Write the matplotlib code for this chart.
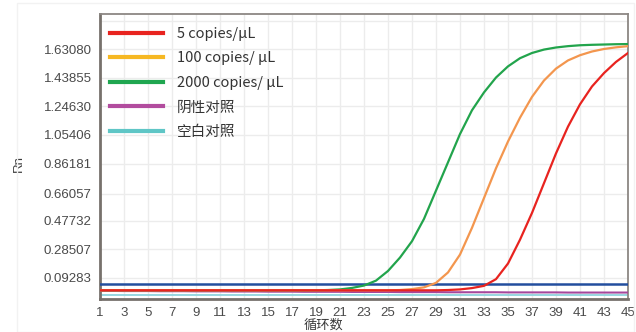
import matplotlib
matplotlib.use('Agg')
import matplotlib.pyplot as plt
from matplotlib.lines import Line2D
from matplotlib.patches import Rectangle
from matplotlib.font_manager import FontProperties

# cycles 1..45
cycles = list(range(1, 46))

# Rn readings per cycle
rn_5 = [0.010] * 29 + [0.012, 0.016, 0.025, 0.040, 0.085, 0.19, 0.35, 0.53, 0.73,
                       0.93, 1.11, 1.26, 1.38, 1.47, 1.545, 1.605]
rn_100 = [0.010] * 25 + [0.012, 0.018, 0.030, 0.060, 0.13, 0.25, 0.43, 0.63, 0.83,
                         1.01, 1.17, 1.31, 1.42, 1.50, 1.555, 1.59, 1.615, 1.632,
                         1.643, 1.651]
rn_2000 = [0.010] * 19 + [0.012, 0.016, 0.026, 0.042, 0.075, 0.14, 0.23, 0.34, 0.49,
                          0.68, 0.87, 1.06, 1.22, 1.34, 1.44, 1.515, 1.57, 1.605,
                          1.628, 1.642, 1.651, 1.657, 1.660, 1.662, 1.664, 1.665]
rn_neg = [0.006, 0.006, 0.005, 0.005, 0.005, 0.004, 0.004, 0.004, 0.003, 0.003,
          0.003, 0.002, 0.002, 0.002, 0.001, 0.001, 0.001, 0.000, 0.000, 0.000,
          0.000, -0.001, -0.001, -0.001, -0.001, -0.002, -0.002, -0.002, -0.002,
          -0.003, -0.003, -0.003, -0.003, -0.003, -0.004, -0.004, -0.004, -0.004,
          -0.004, -0.005, -0.005, -0.005, -0.005, -0.005, -0.005]
rn_blank = [-0.022] * 45
threshold = 0.052

labels = ['5 copies/µL', '100 copies/ µL', '2000 copies/ µL', '阴性对照', '空白对照']
ytick_labels = ['0.09283', '0.28507', '0.47732', '0.66057', '0.86181',
                '1.05406', '1.24630', '1.43855', '1.63080']
xtick_vals = list(range(1, 46, 2))

fig = plt.figure(figsize=(6.36, 3.32), dpi=100)
fig.patches.append(Rectangle((0.027, 0.0), 0.97, 0.99, transform=fig.transFigure,
                             fill=False, edgecolor='#f2f2f2', lw=1))
ax = fig.add_axes([0.1572, 0.1009, 0.8302, 0.8569])

# grid
for c in xtick_vals:
    ax.axvline(c, color='#ececec', lw=1, zorder=0)
for t in ytick_labels + ['1.82305']:
    ax.axhline(float(t), color='#ececec', lw=1, zorder=0)

ax.plot(cycles, rn_blank, color='#8fd3dd', lw=1.3, zorder=2)
ax.plot(cycles, rn_neg, color='#a5479c', lw=1.5, zorder=3)
ax.axhline(threshold, color='#234e9e', lw=1.8, zorder=3)
for vals, col in [(rn_2000, '#22a44c'), (rn_100, '#f3964e'), (rn_5, '#e8231f')]:
    ax.plot(cycles, vals, color=col, lw=1.6, zorder=4, solid_joinstyle='round')

ax.set_xlim(1, 45)
ax.set_ylim(-0.045, 1.867)
ax.set_xticks(xtick_vals)
ax.set_xticklabels([str(c) for c in xtick_vals])
ax.set_yticks([float(t) for t in ytick_labels])
ax.set_yticklabels(ytick_labels)
ax.tick_params(length=0, pad=6, labelsize=9.5, labelcolor='#4a4a4a')
for lab in ax.get_xticklabels() + ax.get_yticklabels():
    lab.set_family('Liberation Sans')

for side in ['left', 'bottom']:
    ax.spines[side].set_color('#77716c')
    ax.spines[side].set_linewidth(2)
for side in ['top', 'right']:
    ax.spines[side].set_color('#8c8783')
    ax.spines[side].set_linewidth(1.3)

cjk = ['Noto Sans CJK SC', 'DejaVu Sans']
ax.set_xlabel('循环数', family=cjk, fontsize=9.5, color='#3a3a3a')
ax.xaxis.set_label_coords(0.424, -0.072)
ax.set_ylabel('Rn', family='Liberation Sans', fontsize=9.5, color='#3a3a3a')
ax.yaxis.set_label_coords(-0.142, 0.476)

legend_colors = ['#e8231f', '#f6b823', '#1fa650', '#b24c9e', '#5fc6c6']
handles = [Line2D([0], [0], color=c, lw=3) for c in legend_colors]
leg = ax.legend(handles, labels, loc='upper left', bbox_to_anchor=(0.019, 0.955),
                frameon=False, borderaxespad=0, borderpad=0,
                prop=FontProperties(family=cjk, size=10.5),
                handlelength=3.6, handletextpad=1.0, labelspacing=0.72)
for t in leg.get_texts():
    t.set_color('#333333')

fig.savefig('out.png', dpi=100)
